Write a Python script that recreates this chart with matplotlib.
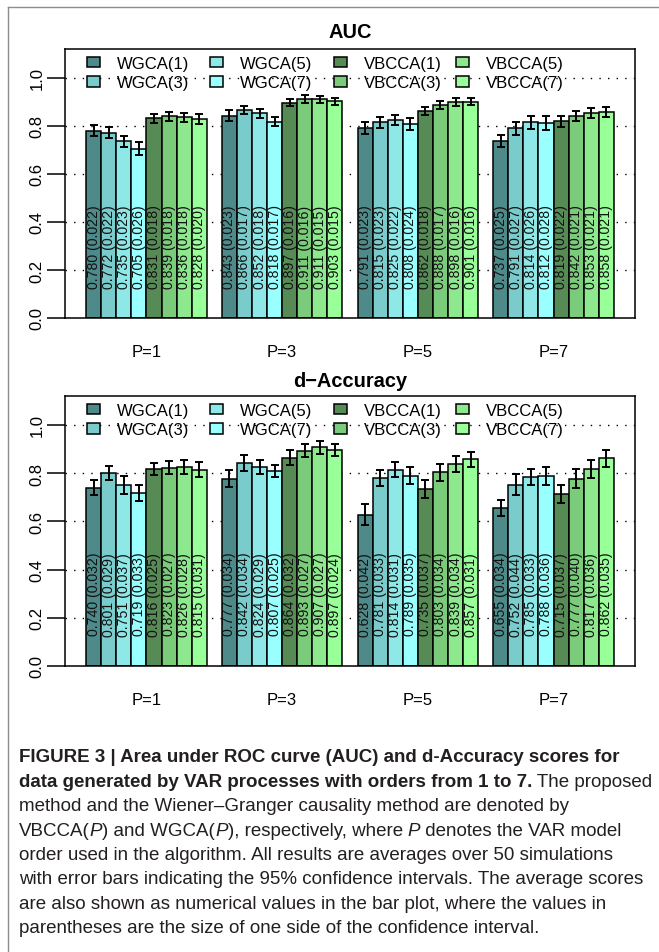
import numpy as np
import matplotlib
matplotlib.use("Agg")
import matplotlib.pyplot as plt
from matplotlib.patches import Patch
from matplotlib.lines import Line2D

plt.rcParams["font.family"] = ["Liberation Sans", "DejaVu Sans"]

W, H, DPI = 659, 953, 100

METHODS = ["WGCA(1)", "WGCA(3)", "WGCA(5)", "WGCA(7)",
           "VBCCA(1)", "VBCCA(3)", "VBCCA(5)", "VBCCA(7)"]
COLORS = ["#4f8a8a", "#7acccc", "#8ee8e8", "#99ffff",
          "#568b56", "#7acc7a", "#8ee88e", "#99ff99"]
GROUPS = ["P=1", "P=3", "P=5", "P=7"]

# rows = method, columns = P=1, 3, 5, 7
auc_mean = np.array([
    [0.780, 0.843, 0.791, 0.737],
    [0.772, 0.866, 0.815, 0.791],
    [0.735, 0.852, 0.825, 0.814],
    [0.705, 0.818, 0.808, 0.812],
    [0.831, 0.897, 0.862, 0.819],
    [0.839, 0.911, 0.888, 0.842],
    [0.836, 0.911, 0.898, 0.853],
    [0.828, 0.903, 0.901, 0.858],
])
auc_ci = np.array([
    [0.022, 0.023, 0.023, 0.025],
    [0.022, 0.017, 0.023, 0.027],
    [0.023, 0.018, 0.022, 0.026],
    [0.026, 0.017, 0.024, 0.028],
    [0.018, 0.016, 0.018, 0.022],
    [0.018, 0.016, 0.017, 0.021],
    [0.018, 0.015, 0.016, 0.021],
    [0.020, 0.015, 0.016, 0.021],
])
acc_mean = np.array([
    [0.740, 0.777, 0.628, 0.655],
    [0.801, 0.842, 0.781, 0.752],
    [0.751, 0.824, 0.814, 0.785],
    [0.719, 0.807, 0.789, 0.788],
    [0.816, 0.864, 0.735, 0.715],
    [0.823, 0.893, 0.803, 0.777],
    [0.826, 0.907, 0.839, 0.817],
    [0.815, 0.897, 0.857, 0.862],
])
acc_ci = np.array([
    [0.032, 0.034, 0.042, 0.034],
    [0.029, 0.034, 0.033, 0.044],
    [0.037, 0.029, 0.031, 0.033],
    [0.033, 0.025, 0.035, 0.036],
    [0.025, 0.032, 0.037, 0.037],
    [0.027, 0.027, 0.034, 0.040],
    [0.028, 0.027, 0.034, 0.036],
    [0.031, 0.024, 0.031, 0.035],
])

YTICKS = [0.0, 0.2, 0.4, 0.6, 0.8, 1.0]

fig = plt.figure(figsize=(W / DPI, H / DPI), dpi=DPI)


def px_axes(x0, y0, x1, y1):
    return fig.add_axes([x0 / W, 1 - y1 / H, (x1 - x0) / W, (y1 - y0) / H])


def draw_panel(ax, means, cis, title, title_y):
    n_m, n_g = means.shape
    # R barplot(beside=TRUE) layout: one empty slot before each group
    for g in range(n_g):
        for i in range(n_m):
            x = 1 + 9 * g + i + 0.5
            ax.bar(x, means[i, g], width=1.0, color=COLORS[i],
                   edgecolor="black", linewidth=1.1, zorder=2)
            ax.errorbar(x, means[i, g], yerr=cis[i, g], fmt="none",
                        ecolor="black", elinewidth=1.4, capsize=3.0,
                        capthick=1.4, zorder=3)
            ax.text(x, 0.3, f"{means[i, g]:.3f} ({cis[i, g]:.3f})",
                    rotation=90, ha="center", va="center", fontsize=10.2,
                    color="#111111", zorder=4)
    for yv in YTICKS[1:]:
        ax.axhline(yv, color="black", lw=1.0, ls=(0, (1, 5.2)), zorder=1)

    ax.set_xlim(-0.4, 37.4)
    ax.set_ylim(0, 1.12)
    ax.set_xticks([1 + 9 * g + 4 for g in range(n_g)], GROUPS)
    ax.tick_params(axis="x", length=0, pad=19, labelsize=12)
    ax.set_yticks(YTICKS)
    ax.set_yticklabels([f"{v:.1f}" for v in YTICKS], rotation=90, va="center")
    ax.tick_params(axis="y", length=13, width=1.1, pad=1.5, labelsize=12)
    for sp in ax.spines.values():
        sp.set_linewidth(1.1)

    handles = [Patch(facecolor=c, edgecolor="black", linewidth=1.1) for c in COLORS]
    col_left = [87, 210, 334, 456]
    legs = []
    for c in range(4):
        leg = ax.legend(handles[2 * c:2 * c + 2], METHODS[2 * c:2 * c + 2],
                        loc="upper left",
                        bbox_to_anchor=((col_left[c] - 65) / 570, 0.975),
                        frameon=False, fontsize=12, borderpad=0,
                        borderaxespad=0, handlelength=0.8, handleheight=0.6,
                        handletextpad=1.0, labelspacing=0.28)
        legs.append(leg)
    for leg in legs[:-1]:
        ax.add_artist(leg)

    fig.text(350 / W, 1 - title_y / H, title, ha="center", va="center",
             fontsize=14.4, fontweight="bold")


ax1 = px_axes(65, 50, 635, 319)
draw_panel(ax1, auc_mean, auc_ci, "AUC", 33)
ax2 = px_axes(65, 397, 635, 667)
draw_panel(ax2, acc_mean, acc_ci, "d\u2212Accuracy", 382)

# thin frame around the figure (left and top edges visible)
fig.add_artist(Line2D([8 / W, 8 / W], [0, 1 - 8 / H], transform=fig.transFigure,
                      color="#8c8c8c", lw=1.0))
fig.add_artist(Line2D([8 / W, 1], [1 - 8 / H, 1 - 8 / H], transform=fig.transFigure,
                      color="#8c8c8c", lw=1.0))

# caption
CAPTION = [
    [("FIGURE 3 | Area under ROC curve (AUC) and d-Accuracy scores for", "bold", "normal")],
    [("data generated by VAR processes with orders from 1 to 7.", "bold", "normal"),
     (" The proposed", "normal", "normal")],
    [("method and the Wiener\u2013Granger causality method are denoted by", "normal", "normal")],
    [("VBCCA(", "normal", "normal"), ("P", "normal", "italic"),
     (") and WGCA(", "normal", "normal"), ("P", "normal", "italic"),
     ("), respectively, where ", "normal", "normal"), ("P", "normal", "italic"),
     (" denotes the VAR model", "normal", "normal")],
    [("order used in the algorithm. All results are averages over 50 simulations", "normal", "normal")],
    [("with error bars indicating the 95% confidence intervals. The average scores", "normal", "normal")],
    [("are also shown as numerical values in the bar plot, where the values in", "normal", "normal")],
    [("parentheses are the size of one side of the confidence interval.", "normal", "normal")],
]
renderer = fig.canvas.get_renderer()
y = 758
for line in CAPTION:
    x = 19
    for s, weight, style in line:
        t = fig.text(x / W, 1 - y / H, s, ha="left", va="center", fontsize=13.5,
                     fontweight=weight, fontstyle=style, color="#231f20")
        x += t.get_window_extent(renderer).width
    y += 24.4

fig.savefig("out.png", dpi=DPI)
